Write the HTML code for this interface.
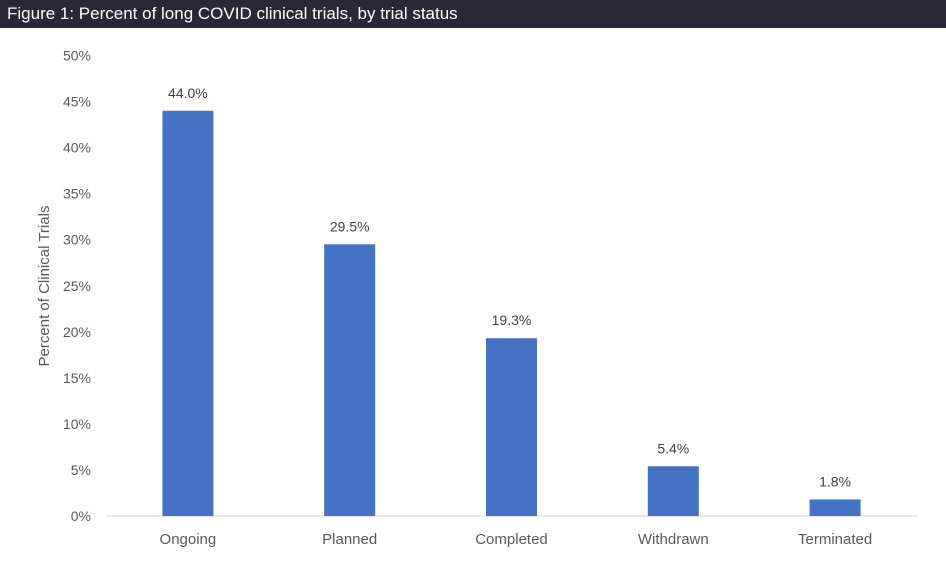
<!DOCTYPE html>
<html><head><meta charset="utf-8"><style>
body{margin:0;width:946px;height:573px;background:#fff;font-family:"Liberation Sans",sans-serif;overflow:hidden}
#title{position:absolute;left:0;top:0;width:946px;height:28px;background:#2a2838;color:#fff;font-size:17px;line-height:28px;padding-left:7px;box-sizing:border-box}
</style></head><body>
<div id="title">Figure 1: Percent of long COVID clinical trials, by trial status</div>
<svg id="chart" width="946" height="573" style="position:absolute;left:0;top:0"></svg>
<script>
const categories=["Ongoing","Planned","Completed","Withdrawn","Terminated"];
const values=[44.0,29.5,19.3,5.4,1.8];
const valueLabels=["44.0%","29.5%","19.3%","5.4%","1.8%"];
const yTicks=[0,5,10,15,20,25,30,35,40,45,50];
const svg=document.getElementById('chart');
const NS="http://www.w3.org/2000/svg";
const y0=516,pxPer=9.21,x0=107,band=161.8,barW=51;
const y=v=>y0-v*pxPer;
const xc=i=>x0+band*(i+0.5);
function mk(t,a,txt){const e=document.createElementNS(NS,t);for(const k in a)e.setAttribute(k,a[k]);if(txt!=null)e.textContent=txt;svg.appendChild(e);return e;}
yTicks.forEach(t=>{
  const e=mk('text',{x:91,y:y(t)+5,'text-anchor':'end','font-size':14,fill:'#595959'},t+'%');
  
  
});
const ax=mk('line',{x1:x0,x2:917,y1:y0,y2:y0,stroke:'#d9d9d9','stroke-width':1.3});


categories.forEach((c,i)=>{
  const b=mk('rect',{x:xc(i)-barW/2,y:y(values[i]),width:barW,height:y0-y(values[i]),fill:'#4472c4'});
  
  
  const l=mk('text',{x:xc(i),y:y(values[i])-13,'text-anchor':'middle','font-size':14,fill:'#404040'},valueLabels[i]);
  
  
  const cl=mk('text',{x:xc(i),y:544,'text-anchor':'middle','font-size':15,fill:'#595959'},c);
  
  
});
const yt=mk('text',{x:0,y:0,transform:'translate(49,286) rotate(-90)','text-anchor':'middle','font-size':15,fill:'#595959'},'Percent of Clinical Trials');


</script>
</body></html>
